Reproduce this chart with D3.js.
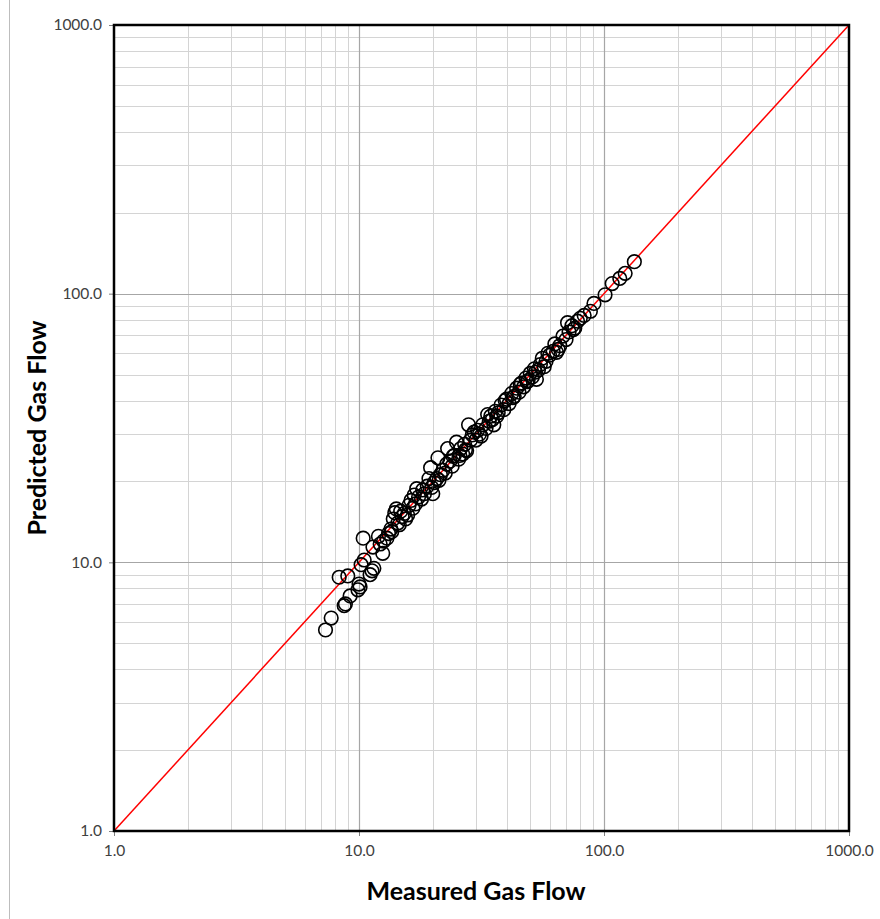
<!DOCTYPE html>
<html>
<head>
<meta charset="utf-8">
<script src="https://cdn.jsdelivr.net/npm/d3@7"></script>
<style>
  html, body { margin: 0; padding: 0; background: #fff; }
  svg { display: block; }
</style>
</head>
<body>
<svg id="chart" width="880" height="919"></svg>
<script>
// ---- Data ----
const xTickValues = [1, 10, 100, 1000];
const yTickValues = [1, 10, 100, 1000];
const tickLabels = ["1.0", "10.0", "100.0", "1000.0"];
const xTitle = "Measured Gas Flow";
const yTitle = "Predicted Gas Flow";
const identityLine = [1, 1000];

const measured = [
  7.3, 7.7, 8.3, 8.7, 8.8, 9.0, 9.2, 9.9, 10.0, 10.1,
  10.2, 10.4, 10.5, 11.1, 11.3, 11.5, 11.4, 12.2, 12.5, 12.6,
  13.0, 13.2, 13.5, 13.8, 14.0, 14.2, 14.4, 14.6, 15.0, 15.3,
  15.5, 16.0, 16.3, 16.6, 17.0, 17.2, 17.5, 18.0, 18.5, 19.0,
  19.3, 19.6, 20.0, 20.3, 20.8, 21.0, 21.5, 22.0, 22.5, 23.0,
  23.5, 24.0, 24.5, 25.0, 25.5, 26.0, 26.5, 27.0, 27.5, 28.0,
  28.5, 29.0, 30.0, 30.5, 31.0, 32.0, 33.0, 33.5, 34.0, 35.0,
  35.5, 36.0, 37.0, 38.0, 39.0, 40.0, 41.0, 42.0, 43.0, 44.0,
  45.0, 46.0, 47.0, 48.0, 49.0, 50.0, 51.0, 52.0, 53.0, 55.0,
  56.0, 57.0, 58.0, 60.0, 62.0, 63.0, 64.0, 66.0, 68.0, 70.0,
  71.0, 72.0, 74.0, 75.0, 78.0, 80.0, 83.0, 88.0, 91.0, 101.0,
  108.0, 116.0, 122.0, 133.0,
  12.0, 13.6, 14.8, 15.8, 16.8, 18.2, 19.8, 21.2, 22.8, 24.2,
  25.8, 27.2, 29.5, 31.5, 34.5, 36.5, 39.5, 42.5, 45.5, 48.5,
  52.5, 54.0, 59.0, 65.0, 76.0
];
const predicted = [
  5.6, 6.2, 8.8, 6.9, 7.0, 8.9, 7.5, 7.9, 8.3, 8.1,
  9.8, 12.3, 10.2, 9.0, 9.3, 9.5, 11.4, 11.7, 10.8, 12.0,
  12.3, 12.8, 13.3, 14.5, 15.3, 15.8, 14.0, 13.8, 14.8, 15.2,
  14.5, 16.3, 17.0, 15.9, 16.5, 18.8, 17.5, 17.2, 18.0, 19.2,
  20.5, 22.5, 18.0, 19.8, 20.5, 24.5, 21.2, 22.0, 21.5, 26.5,
  23.8, 22.8, 25.0, 28.0, 24.2, 26.5, 25.3, 27.5, 26.0, 32.5,
  28.5, 29.8, 28.5, 31.0, 30.0, 32.5, 31.5, 35.5, 33.5, 34.0,
  32.5, 36.5, 36.0, 38.5, 37.0, 40.5, 39.0, 42.5, 41.5, 44.5,
  43.0, 46.5, 45.0, 48.5, 47.5, 50.5, 49.0, 52.5, 48.0, 54.5,
  57.5, 53.5, 56.0, 59.0, 61.0, 65.0, 60.5, 64.0, 69.5, 67.5,
  78.0, 72.0, 76.0, 73.5, 79.0, 81.0, 83.0, 86.0, 92.0, 99.0,
  109.0, 114.0, 119.0, 131.5,
  12.5, 13.0, 15.5, 15.0, 17.8, 18.6, 19.0, 20.2, 23.2, 24.8,
  25.0, 26.2, 30.5, 29.5, 35.0, 35.0, 40.0, 41.0, 46.0, 47.0,
  51.0, 52.0, 60.0, 62.0, 74.5
];

// ---- Layout ----
const svg = d3.select("#chart");
const pLeft = 114, pRight = 849, pTop = 25, pBottom = 831;

const x = d3.scaleLog().domain([1, 1000]).range([pLeft, pRight]);
const y = d3.scaleLog().domain([1, 1000]).range([pBottom, pTop]);

// outer frame line on left
svg.append("line").attr("x1", 9.5).attr("x2", 9.5).attr("y1", 0).attr("y2", 919)
  .attr("stroke", "#bdbdbd").attr("stroke-width", 1);

// minor grid values
const minorVals = [];
for (let d = 1; d < 1000; d *= 10) for (let k = 2; k <= 9; k++) minorVals.push(d * k);

const grid = svg.append("g");
grid.selectAll("line.vx").data(minorVals).enter().append("line")
  .attr("x1", d => Math.round(x(d)) + 0.5).attr("x2", d => Math.round(x(d)) + 0.5)
  .attr("y1", pTop).attr("y2", pBottom).attr("stroke", "#d4d4d4").attr("stroke-width", 1);
grid.selectAll("line.hy").data(minorVals).enter().append("line")
  .attr("y1", d => Math.round(y(d)) + 0.5).attr("y2", d => Math.round(y(d)) + 0.5)
  .attr("x1", pLeft).attr("x2", pRight).attr("stroke", "#d4d4d4").attr("stroke-width", 1);
grid.selectAll("line.mx").data([10, 100]).enter().append("line")
  .attr("x1", d => Math.round(x(d)) + 0.5).attr("x2", d => Math.round(x(d)) + 0.5)
  .attr("y1", pTop).attr("y2", pBottom).attr("stroke", "#a6a6a6").attr("stroke-width", 1.2);
grid.selectAll("line.my").data([10, 100]).enter().append("line")
  .attr("y1", d => Math.round(y(d)) + 0.5).attr("y2", d => Math.round(y(d)) + 0.5)
  .attr("x1", pLeft).attr("x2", pRight).attr("stroke", "#a6a6a6").attr("stroke-width", 1.2);

// axes
const xAxis = d3.axisBottom(x).tickValues(xTickValues)
  .tickFormat(d => tickLabels[xTickValues.indexOf(d)]).tickSize(5).tickPadding(9);
const yAxis = d3.axisLeft(y).tickValues(yTickValues)
  .tickFormat(d => tickLabels[yTickValues.indexOf(d)]).tickSize(5).tickPadding(7);

const gx = svg.append("g").attr("transform", `translate(0,${pBottom})`).call(xAxis);
const gy = svg.append("g").attr("transform", `translate(${pLeft},0)`).call(yAxis);
[gx, gy].forEach(g => {
  g.select(".domain").remove();
  g.selectAll(".tick line").attr("stroke", "#7f7f7f");
  g.selectAll("text").attr("font-family", "Lato, 'Open Sans', sans-serif")
    .attr("font-size", 15.5).attr("fill", "#404040");
});

// identity line
svg.append("line")
  .attr("x1", x(identityLine[0])).attr("y1", y(identityLine[0]))
  .attr("x2", x(identityLine[1])).attr("y2", y(identityLine[1]))
  .attr("stroke", "#ff0000").attr("stroke-width", 1.5);

// points
const pts = measured.map((m, i) => [m, predicted[i]]);
svg.append("g").selectAll("circle").data(pts).enter().append("circle")
  .attr("cx", d => x(d[0])).attr("cy", d => y(d[1])).attr("r", 6.8)
  .attr("fill", "none").attr("stroke", "#000").attr("stroke-width", 1.6);

// plot border
svg.append("rect").attr("x", pLeft).attr("y", pTop)
  .attr("width", pRight - pLeft).attr("height", pBottom - pTop)
  .attr("fill", "none").attr("stroke", "#000").attr("stroke-width", 2.5);

// titles
svg.append("text").attr("x", 476).attr("y", 900)
  .attr("text-anchor", "middle").attr("font-family", "Lato, 'Open Sans', sans-serif")
  .attr("font-weight", "bold").attr("font-size", 25).attr("fill", "#000").text(xTitle);
svg.append("text").attr("transform", `translate(46,${(pTop + pBottom) / 2}) rotate(-90)`)
  .attr("text-anchor", "middle").attr("font-family", "Lato, 'Open Sans', sans-serif")
  .attr("font-weight", "bold").attr("font-size", 25).attr("fill", "#000").text(yTitle);
</script>
</body>
</html>
